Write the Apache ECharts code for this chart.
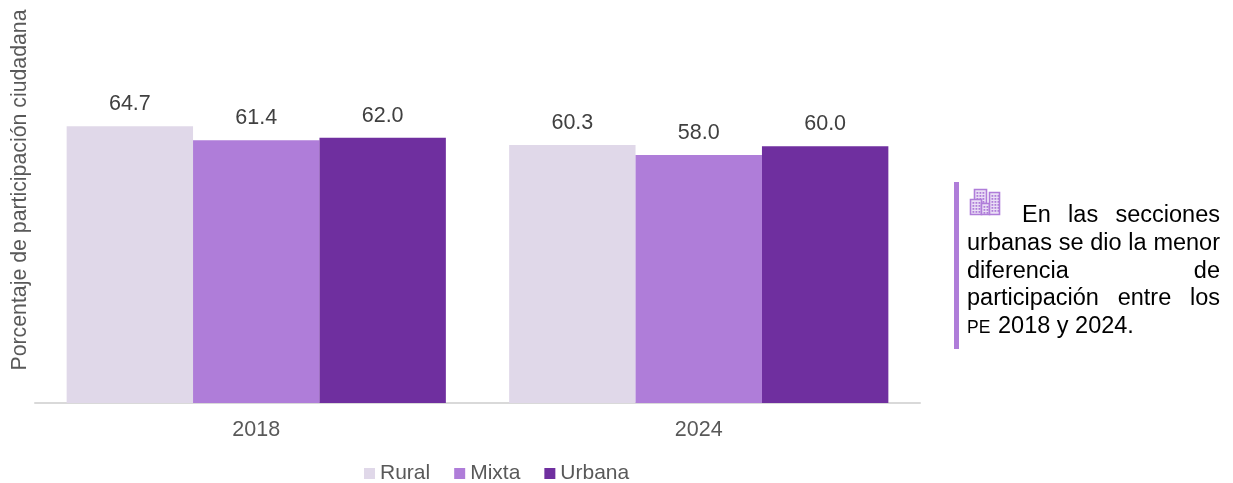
<!DOCTYPE html>
<html><head><meta charset="utf-8">
<style>html,body{margin:0;padding:0;background:#fff}#c{width:1233px;height:483px}</style>
<script src="https://cdn.jsdelivr.net/npm/echarts@6/dist/echarts.min.js"></script>
</head><body><div id="c"></div>
<script>
const categories = ['2018', '2024'];
const rural = [64.7, 60.3];
const mixta = [61.4, 58.0];
const urbana = [62.0, 60.0];
const yTitle = 'Porcentaje de participación ciudadana';
const noteLines = [
  {words: ['En', 'las', 'secciones'], left: 1022},
  {words: ['urbanas', 'se', 'dio', 'la', 'menor'], left: 967},
  {words: ['diferencia', 'de'], left: 967},
  {words: ['participación', 'entre', 'los'], left: 967}
];
const lastLineSmall = 'PE';
const lastLine = '2018 y 2024.';
const FONT = '"Liberation Sans", Arial, sans-serif';
const RIGHT = 1220, NOTE_SIZE = 23.5, LINE0 = 222, LINE_H = 27.7;
const ctx = document.createElement('canvas').getContext('2d');
function w(t, s){ ctx.font = s + 'px "Liberation Sans"'; return ctx.measureText(t).width; }

const graphics = [
  {type:'text', x:20, y:190, rotation:Math.PI/2, style:{text:yTitle, font:'21.3px '+FONT, fill:'#595959', align:'center', verticalAlign:'middle'}},
  {type:'rect', shape:{x:954,y:182,width:5,height:167}, style:{fill:'#AF7DD9'}}
];
function noteText(t, x, base, size){
  graphics.push({type:'text', x:x, y:base - size*0.77, style:{text:t, font:size+'px '+FONT, fill:'#000', align:'left', verticalAlign:'top'}});
}
noteLines.forEach((l, i) => {
  const total = l.words.reduce((a, t) => a + w(t, NOTE_SIZE), 0);
  const gap = (RIGHT - l.left - total) / (l.words.length - 1);
  let x = l.left;
  l.words.forEach(t => { noteText(t, x, LINE0 + i * LINE_H, NOTE_SIZE); x += w(t, NOTE_SIZE) + gap; });
});
noteText(lastLineSmall, 967, LINE0 + 4 * LINE_H, 17.5);
noteText(lastLine, 998, LINE0 + 4 * LINE_H, NOTE_SIZE);
// building icon
const ic = '#AF7DD9';
[[974,189,12,14],[970,199,11,15],[981,203,8,11],[989,192,10,22]].forEach(b => {
  graphics.push({type:'rect', shape:{x:b[0]+.5,y:b[1]+.5,width:b[2],height:b[3]}, style:{fill:'#EADFF5',stroke:ic,lineWidth:1.6}});
  for (let yy=b[1]+3; yy<b[1]+b[3]-1; yy+=3) for (let xx=b[0]+2.5; xx<b[0]+b[2]-1; xx+=3)
    graphics.push({type:'rect', shape:{x:xx,y:yy,width:1.8,height:1.8}, style:{fill:ic}});
});

const label = {show:true, position:'top', distance:11, fontFamily:FONT, fontSize:21.5, color:'#404040', formatter:p => p.value.toFixed(1)};
const mk = (name, data, color) => ({name, type:'bar', data, barGap:0, barCategoryGap:'14.3%', itemStyle:{color}, label, emphasis:{disabled:true}});
const chart = echarts.init(document.getElementById('c'), null, {renderer:'canvas'});
chart.setOption({
  animation:false,
  grid:{left:35, top:18, width:885, height:385},
  legend:{left:364, top:463, padding:0, itemWidth:11, itemHeight:11, itemGap:24, icon:'rect',
    textStyle:{fontFamily:FONT, fontSize:21, color:'#595959'}},
  xAxis:{type:'category', data:categories, axisTick:{show:false}, axisLine:{lineStyle:{color:'#D9D9D9', width:2}},
    axisLabel:{fontFamily:FONT, fontSize:21.5, color:'#595959', margin:16}},
  yAxis:{type:'value', min:0, max:90, show:false},
  series:[mk('Rural', rural, '#E0D8E9'), mk('Mixta', mixta, '#AF7DD9'), mk('Urbana', urbana, '#6F2F9F')],
  graphic:graphics
});
</script></body></html>
